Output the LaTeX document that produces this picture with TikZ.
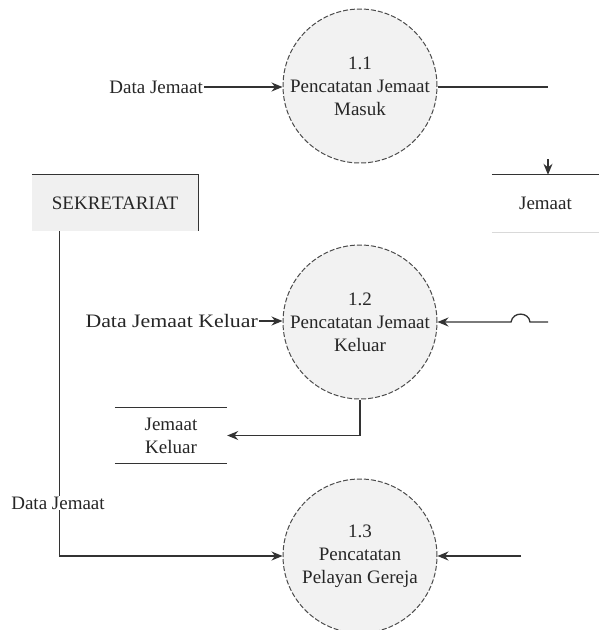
\documentclass[tikz,border=0pt]{standalone}
\usepackage{fontspec}
\usepackage{graphicx}
\setmainfont{Liberation Serif}
\usetikzlibrary{arrows.meta}
\begin{document}
\begin{tikzpicture}[x=1pt,y=-1pt,
  every node/.style={font=\fontsize{19}{23}\selectfont, text=black!85},
  proc/.style={circle, minimum size=154pt, inner sep=0pt, draw=black!70, dash pattern=on 5pt off 2pt, line width=1pt, fill=black!5},
  ptext/.style={align=center, inner sep=0pt},
  flow/.style={draw=black!80, line width=1.3pt},
  arr/.style={flow, -{Stealth[length=11pt,width=9pt]}},
  lab/.style={inner sep=1pt},
  store/.style={rectangle, align=center, inner sep=0pt}
]
\useasboundingbox[fill=white] (0,0) rectangle (599,630);

% processes
\node[proc] (c1) at (360,86) {};
\node[ptext] (t1) at (c1.center) {1.1\\Pencatatan Jemaat\\Masuk};
\node[proc] (c2) at (360,322) {};
\node[ptext] (t2) at (c2.center) {1.2\\Pencatatan Jemaat\\Keluar};
\node[proc] (c3) at (360,556) {};
\node[ptext] (t3) at (c3.center) {1.3\\Pencatatan\\Pelayan Gereja};

% external entity
\node[store, minimum width=166pt, minimum height=56pt, fill=black!6] (sek) at (115,203) {SEKRETARIAT};
\draw[flow] (sek.north west) -- (sek.north east) -- (sek.south east);

% data stores
\node[store, minimum width=107pt, minimum height=57pt] (jem) at (545.5,203.5) {Jemaat};
\draw[flow] (jem.north west) -- (jem.north east);
\draw[draw=black!15, line width=1pt] (jem.south west) -- (jem.south east);

\node[store, minimum width=112pt, minimum height=55pt] (jk) at (171,435.5) {Jemaat\\Keluar};
\draw[flow] (jk.north west) -- (jk.north east);
\draw[flow] (jk.south west) -- (jk.south east);

% flows into 1.1
\node[lab, anchor=east] (l1) at (204,87) {Data Jemaat};
\draw[arr] (l1.east) -- (l1.east -| c1.west);
\coordinate (r1) at (548,87);
\draw[flow] (c1.east |- r1) -- (r1);
\coordinate (j0) at (548,159);
\draw[arr] (j0) -- (j0 |- jem.north);

% flows of 1.2
\node[lab, anchor=east] (l2) at (259,321) {\scalebox{1.15}[1]{Data Jemaat Keluar}};
\draw[arr] (l2.east) -- (l2.east -| c2.west);
\coordinate (r2) at (548,322);
\draw[arr] (r2) -- (530,322) .. controls (529,312) and (513,311) .. (511,322) -- (c2.east);
\draw[arr] (c2.south) |- (jk.east);

% flows into 1.3
\draw[arr] ([xshift=28pt]sek.south west) |- (c3.west);
\node[lab, fill=white] (l3) at (58,503) {Data Jemaat};
\coordinate (r3) at (521,556);
\draw[arr] (r3) -- (c3.east);
\end{tikzpicture}
\end{document}
